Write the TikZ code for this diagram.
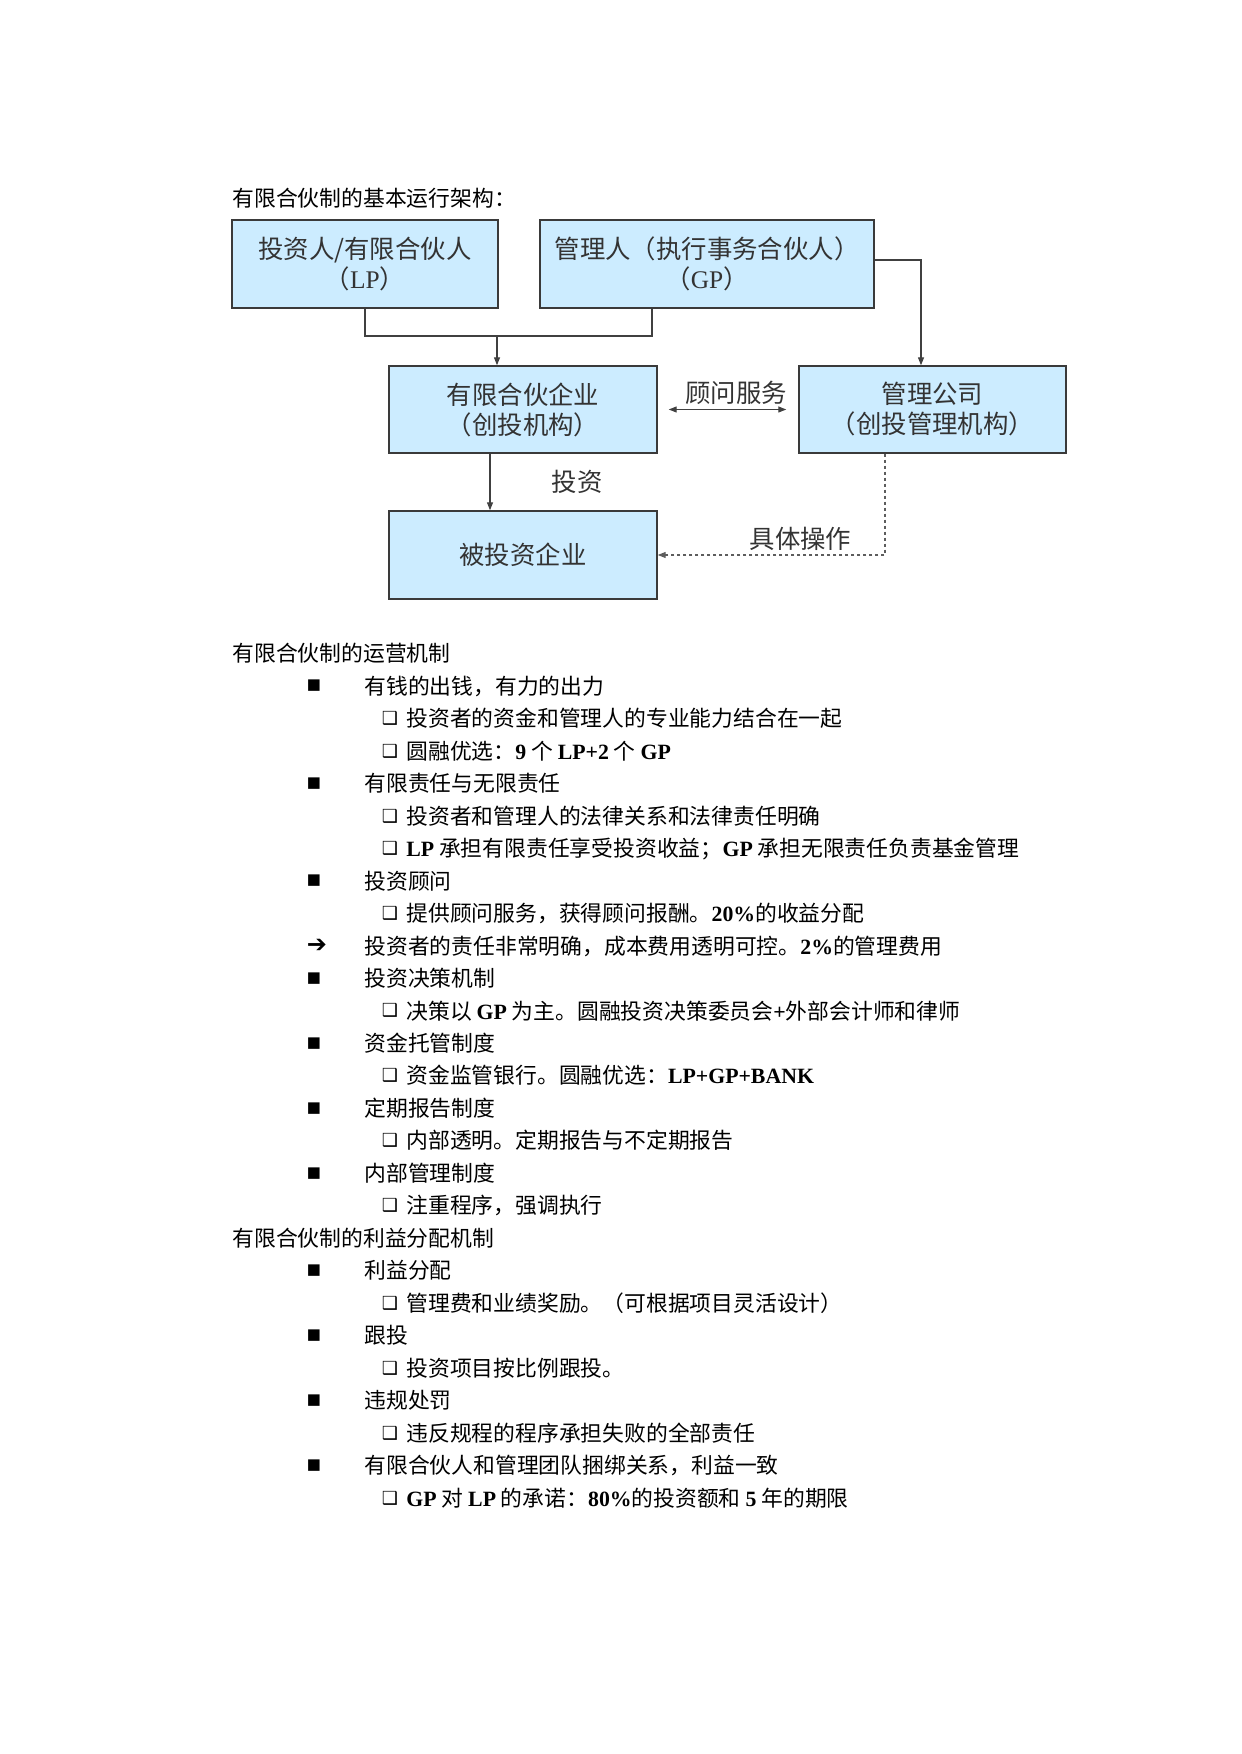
\documentclass[tikz,border=0pt]{standalone}
\usepackage{fontspec}
\setmainfont{Liberation Serif}
\newfontfamily\cjk{Noto Sans CJK SC}
\newfontfamily\dejavu{DejaVu Sans}
\usetikzlibrary{positioning, arrows.meta}
\definecolor{clrbox}{HTML}{CCECFF}
\definecolor{clrborder}{HTML}{3A3A3A}
\definecolor{clrtext}{HTML}{333333}
\definecolor{clrline}{HTML}{404040}
\newcommand{\lat}[1]{{\rmfamily\bfseries #1}}
\newcommand{\latr}[1]{{\rmfamily #1}}

\begin{document}
\begin{tikzpicture}[
    x=0.5pt, y=-0.5pt,
    >={Triangle[length=4pt, width=3pt]},
    every node/.style={font=\cjk},
    box/.style={draw=clrborder, fill=clrbox, line width=0.7pt, align=center,
                text=clrtext, font=\cjk\fontsize{12.7}{15}\selectfont, inner sep=0pt},
    conn/.style={color=clrline, line width=0.6pt},
    arrow/.style={->, color=clrline, line width=0.6pt},
    biarrow/.style={<->, color=clrline, line width=0.6pt},
    dasharrow/.style={->, color=clrline!85, line width=0.6pt, dash pattern=on 1.8pt off 1.2pt},
    label/.style={text=clrtext, font=\cjk\fontsize{12.7}{15}\selectfont, inner sep=1pt},
    head/.style={anchor=base west, inner sep=0pt, font=\cjk\fontsize{10.9}{13}\selectfont},
    item/.style={anchor=base west, inner sep=0pt, font=\cjk\fontsize{10.9}{13}\selectfont},
    bullet/.style={anchor=center, inner sep=0pt, font=\dejavu\fontsize{7.5}{9}\selectfont},
    tick/.style={anchor=center, inner sep=0pt, font=\dejavu\fontsize{9}{10}\selectfont},
    pointer/.style={anchor=center, inner sep=0pt, font=\dejavu\fontsize{12}{12}\selectfont},
]
\useasboundingbox (0,0) rectangle (1241,1754);
% structure chart
\node[head] (t_1) at (232,207) {有限合伙制的基本运行架构：};
\node[box, minimum width=133pt, minimum height=44pt] (n_lp) at (365,264) {投资人/有限合伙人\\（\latr{LP}）};
\node[box, minimum width=167pt, minimum height=44pt] (n_gp) at (707,264) {管理人（执行事务合伙人）\\（\latr{GP}）};
\node[box, minimum width=134pt, minimum height=43.5pt] (n_mid) at (523,409.5) {有限合伙企业\\（创投机构）};
\node[box, minimum width=133.5pt, minimum height=43.5pt] (n_mc) at (932.5,409.5) {管理公司\\（创投管理机构）};
\node[box, minimum width=134pt, minimum height=44pt] (n_inv) at (523,555) {被投资企业};
\coordinate (c_split) at (497,336);
\draw[conn] (n_lp.south) |- (c_split) -| ([xshift=-27.5pt]n_gp.south);
\draw[arrow] (c_split) -- (c_split |- n_mid.north);
\draw[arrow] ([yshift=2pt]n_gp.east) -| ([xshift=-5.75pt]n_mc.north);
\draw[biarrow] ([xshift=5.5pt]n_mid.east) -- node[label, above, xshift=4.25pt, yshift=1pt] {顾问服务} ([xshift=-6pt]n_mc.west);
\draw[arrow] ([xshift=-16.5pt]n_mid.south) -- node[label, xshift=43.5pt] {投资} ([xshift=-16.5pt]n_inv.north);
\draw[dasharrow] ([xshift=-23.75pt]n_mc.south) |- node[label, pos=0.686, above, yshift=1pt] {具体操作} (n_inv.east);
% operating mechanism
\node[head] (h_1) at (232,661.7) {有限合伙制的运营机制};
\node[bullet] (m_1) at (314,686) {■};
\node[item] (l_1) at (364,694.2) {有钱的出钱，有力的出力};
\node[tick] (k_2) at (390,718.5) {❑};
\node[item] (l_2) at (406,726.7) {投资者的资金和管理人的专业能力结合在一起};
\node[tick] (k_3) at (390,751) {❑};
\node[item] (l_3) at (406,759.1) {圆融优选：\lat{9} 个 \lat{LP+2} 个 \lat{GP}};
\node[bullet] (m_4) at (314,783.4) {■};
\node[item] (l_4) at (364,791.6) {有限责任与无限责任};
\node[tick] (k_5) at (390,815.9) {❑};
\node[item] (l_5) at (406,824.1) {投资者和管理人的法律关系和法律责任明确};
\node[tick] (k_6) at (390,848.4) {❑};
\node[item] (l_6) at (406,856.6) {\lat{LP} 承担有限责任享受投资收益；\lat{GP} 承担无限责任负责基金管理};
\node[bullet] (m_7) at (314,880.9) {■};
\node[item] (l_7) at (364,889.1) {投资顾问};
\node[tick] (k_8) at (390,913.3) {❑};
\node[item] (l_8) at (406,921.5) {提供顾问服务，获得顾问报酬。\lat{20\%}的收益分配};
\node[pointer] (m_9) at (317,945.8) {➔};
\node[item] (l_9) at (364,954) {投资者的责任非常明确，成本费用透明可控。\lat{2\%}的管理费用};
\node[bullet] (m_10) at (314,978.3) {■};
\node[item] (l_10) at (364,986.5) {投资决策机制};
\node[tick] (k_11) at (390,1010.8) {❑};
\node[item] (l_11) at (406,1019) {决策以 \lat{GP} 为主。圆融投资决策委员会\lat{+}外部会计师和律师};
\node[bullet] (m_12) at (314,1043.3) {■};
\node[item] (l_12) at (364,1051.5) {资金托管制度};
\node[tick] (k_13) at (390,1075.7) {❑};
\node[item] (l_13) at (406,1083.9) {资金监管银行。圆融优选：\lat{LP+GP+BANK}};
\node[bullet] (m_14) at (314,1108.2) {■};
\node[item] (l_14) at (364,1116.4) {定期报告制度};
\node[tick] (k_15) at (390,1140.7) {❑};
\node[item] (l_15) at (406,1148.9) {内部透明。定期报告与不定期报告};
\node[bullet] (m_16) at (314,1173.2) {■};
\node[item] (l_16) at (364,1181.4) {内部管理制度};
\node[tick] (k_17) at (390,1205.7) {❑};
\node[item] (l_17) at (406,1213.9) {注重程序，强调执行};
% profit distribution
\node[head] (h_2) at (232,1246.3) {有限合伙制的利益分配机制};
\node[bullet] (m_19) at (314,1270.6) {■};
\node[item] (l_19) at (364,1278.8) {利益分配};
\node[tick] (k_20) at (390,1303.1) {❑};
\node[item] (l_20) at (406,1311.3) {管理费和业绩奖励。（可根据项目灵活设计）};
\node[bullet] (m_21) at (314,1335.6) {■};
\node[item] (l_21) at (364,1343.8) {跟投};
\node[tick] (k_22) at (390,1368.1) {❑};
\node[item] (l_22) at (406,1376.3) {投资项目按比例跟投。};
\node[bullet] (m_23) at (314,1400.5) {■};
\node[item] (l_23) at (364,1408.7) {违规处罚};
\node[tick] (k_24) at (390,1433) {❑};
\node[item] (l_24) at (406,1441.2) {违反规程的程序承担失败的全部责任};
\node[bullet] (m_25) at (314,1465.5) {■};
\node[item] (l_25) at (364,1473.7) {有限合伙人和管理团队捆绑关系，利益一致};
\node[tick] (k_26) at (390,1498) {❑};
\node[item] (l_26) at (406,1506.2) {\lat{GP} 对 \lat{LP} 的承诺：\lat{80\%}的投资额和 \lat{5} 年的期限};
\end{tikzpicture}
\end{document}
